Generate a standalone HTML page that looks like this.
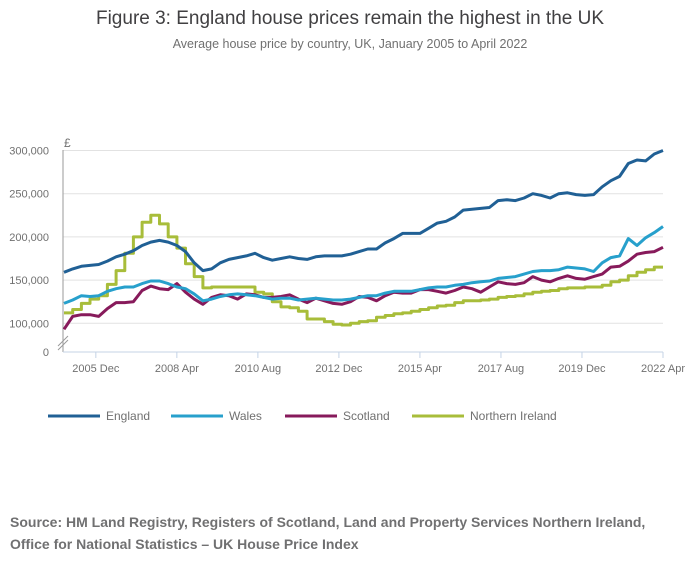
<!DOCTYPE html>
<html><head><meta charset="utf-8"><style>
body{margin:0;background:#fff;width:700px;height:574px;overflow:hidden;font-family:"Liberation Sans",sans-serif}
svg text{font-family:"Liberation Sans",sans-serif}
</style></head><body>
<svg id="chart" width="700" height="574">
<text x="350" y="24" text-anchor="middle" font-size="19" fill="#414042">Figure 3: England house prices remain the highest in the UK</text>
<text x="350" y="48" text-anchor="middle" font-size="12.5" fill="#707070">Average house price by country, UK, January 2005 to April 2022</text>
<g id="grid"></g><g id="axes"></g><g id="lines"></g>
<g id="legend"></g>
<text x="10" y="527" font-size="14" font-weight="bold" fill="#707071">Source: HM Land Registry, Registers of Scotland, Land and Property Services Northern Ireland,</text>
<text x="10" y="549" font-size="14" font-weight="bold" fill="#707071">Office for National Statistics – UK House Price Index</text>
</svg>
<script>
const yTicks=[100000,150000,200000,250000,300000];
const xTickLabels=["2005 Dec","2008 Apr","2010 Aug","2012 Dec","2015 Apr","2017 Aug","2019 Dec","2022 Apr"];
const xTickMonths=[11,39,67,95,123,151,179,207];
const seriesNames=["England","Wales","Scotland","Northern Ireland"];
const england=[159,163,166,167,168,172,177,180,184,190,194,196,194,190,183,170,161,163,170,174,176,178,181,176,173,175,177,175,174,177,178,178,178,180,183,186,186,193,198,204,204,204,210,216,218,223,231,232,233,234,242,243,242,245,250,248,245,250,251,249,248,249,258,265,270,285,289,288,296,300];
const wales=[123,127,132,131,132,137,140,142,142,146,149,149,146,142,140,134,126,128,131,133,134,133,132,130,128,129,129,127,128,129,128,127,127,128,130,132,132,135,137,137,137,139,141,142,142,144,145,147,148,149,152,153,154,157,160,161,161,162,165,164,163,160,170,176,178,198,190,199,205,212];
const scotland=[93,108,110,110,108,117,124,124,125,138,143,140,139,146,136,128,122,130,133,132,128,134,133,130,130,131,133,128,124,129,126,123,122,125,131,130,126,132,136,135,135,139,139,137,135,138,142,140,136,142,148,146,145,147,154,150,148,152,155,152,151,154,157,165,166,172,180,182,183,188];
const nireland=[112,116,123,128,132,145,161,181,200,217,225,215,200,187,169,154,141,142,142,142,142,142,136,134,125,119,118,114,105,105,102,99,98,100,102,103,107,109,111,112,114,116,118,120,121,124,126,126,127,128,130,131,132,134,136,137,138,140,141,141,142,142,144,148,150,155,159,162,165,165];
const colors=["#206095","#27a0cc","#871a5b","#a8bd3a"];
const NS="http://www.w3.org/2000/svg";
const X=m=>64+(663-64)*m/207;
const Y=v=>323.3-(v-100000)/50000*43.2;
function mk(t,a,p){const e=document.createElementNS(NS,t);for(const k in a)e.setAttribute(k,a[k]);p.appendChild(e);return e;}
const grid=document.getElementById('grid'),axes=document.getElementById('axes'),lines=document.getElementById('lines'),leg=document.getElementById('legend');
yTicks.forEach(v=>{
 const l=mk('line',{x1:63,x2:663,y1:Y(v),y2:Y(v),stroke:'#e2e2e2','stroke-width':1},grid);
 
 
 const t=mk('text',{x:49,y:Y(v)+4,'text-anchor':'end','font-size':11,fill:'#707070'},axes);
 t.textContent=v.toLocaleString('en-GB');
 
 
});
let z=mk('text',{x:49,y:356,'text-anchor':'end','font-size':11,fill:'#707070'},axes);z.textContent='0';


let pd=mk('text',{x:64,y:147,'font-size':12,fill:'#707070'},axes);pd.textContent='£';


let ya=mk('line',{x1:63,x2:63,y1:150,y2:352,stroke:'#9a9a9a','stroke-width':1},axes);


let xa=mk('line',{x1:63,x2:663,y1:352,y2:352,stroke:'#c4d3e6','stroke-width':1},axes);


let br=mk('path',{d:'M58 346 L68 336 M58 350 L68 340',stroke:'#9a9a9a','stroke-width':1,fill:'none'},axes);


xTickMonths.forEach((m,i)=>{
 const tk=mk('line',{x1:X(m),x2:X(m),y1:352,y2:358,stroke:'#c4d3e6'},axes);
 
 
 const t=mk('text',{x:X(m),y:372,'text-anchor':'middle','font-size':11,fill:'#707070'},axes);
 t.textContent=xTickLabels[i];
 
 
});
function linePath(arr){return arr.map((v,i)=>(i?'L':'M')+X(Math.min(i*3,207)).toFixed(1)+' '+Y(v*1000).toFixed(1)).join(' ');}
function stepPath(arr){let d='';arr.forEach((v,i)=>{const x0=X(i*3),x1=X(Math.min(i*3+3,207)),y=Y(v*1000).toFixed(1);d+=(i?'L':'M')+x0.toFixed(1)+' '+y+' L'+x1.toFixed(1)+' '+y+' ';});return d;}
const data=[england,wales,scotland,nireland];
[3,2,1,0].forEach(i=>{
 const p=mk('path',{d:i===3?stepPath(data[i]):linePath(data[i]),fill:'none',stroke:colors[i],'stroke-width':3,'stroke-linejoin':'round'},lines);
 
 
});
const lx=[48,171,285,412];
seriesNames.forEach((n,i)=>{
 const g=mk('g',{},leg);
 
 
 mk('line',{x1:lx[i],x2:lx[i]+52,y1:416,y2:416,stroke:colors[i],'stroke-width':3},g);
 const t=mk('text',{x:lx[i]+58,y:420,'font-size':12,fill:'#707070'},g);t.textContent=n;
});
</script>
</body></html>
